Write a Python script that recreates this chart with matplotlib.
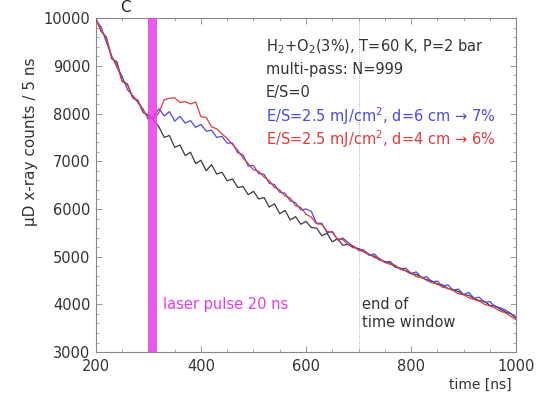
import numpy as np
import matplotlib
matplotlib.use("Agg")
import matplotlib.pyplot as plt
from matplotlib.ticker import MultipleLocator

plt.rcParams['font.family'] = ['DejaVu Sans']

time_ns = np.arange(200, 1001, 10)

black_counts = [9990, 9720, 9600, 9150, 9080, 8680, 8620, 8330, 8260, 8020, 7970, 7860,
                7720, 7500, 7540, 7290, 7340, 7120, 7190, 6950, 7020, 6800, 6930, 6730,
                6770, 6590, 6630, 6450, 6470, 6300, 6370, 6210, 6240, 6040, 6110, 5900,
                5970, 5770, 5840, 5680, 5740, 5610, 5600, 5440, 5490, 5310, 5380, 5240,
                5260, 5190, 5170, 5100, 5040, 5010, 4930, 4900, 4870, 4780, 4760, 4700,
                4640, 4630, 4560, 4520, 4490, 4420, 4410, 4330, 4310, 4270, 4200, 4190,
                4120, 4080, 4060, 3980, 3970, 3900, 3840, 3800, 3710]
blue_counts = [9960, 9810, 9490, 9210, 8970, 8780, 8500, 8380, 8230, 8090, 7870, 7950,
               8100, 7950, 8040, 7840, 7940, 7800, 7850, 7710, 7770, 7630, 7650, 7500,
               7520, 7380, 7380, 7180, 7130, 6900, 6910, 6740, 6730, 6540, 6510, 6350,
               6330, 6170, 6130, 5980, 6000, 5950, 5700, 5700, 5500, 5530, 5350, 5390,
               5300, 5210, 5160, 5140, 5030, 5060, 4950, 4880, 4900, 4800, 4740, 4760,
               4650, 4680, 4560, 4580, 4470, 4490, 4380, 4410, 4300, 4320, 4210, 4250,
               4130, 4150, 4040, 4060, 3950, 3930, 3880, 3810, 3730]
red_counts = [9980, 9740, 9580, 9190, 9020, 8670, 8600, 8340, 8280, 8030, 7940, 7880,
              8020, 8290, 8320, 8330, 8230, 8250, 8200, 8240, 7930, 7920, 7720, 7680,
              7570, 7480, 7350, 7230, 7070, 6950, 6820, 6790, 6670, 6590, 6450, 6400,
              6270, 6230, 6070, 6030, 5890, 5830, 5690, 5680, 5530, 5510, 5370, 5360,
              5250, 5230, 5130, 5110, 5060, 4980, 4960, 4880, 4840, 4820, 4730, 4710,
              4660, 4580, 4570, 4500, 4450, 4440, 4360, 4340, 4290, 4220, 4210, 4140,
              4100, 4070, 4000, 3970, 3920, 3860, 3820, 3750, 3680]

laser_start, laser_end = 299, 317
window_end = 700

info_lines = [r'H$_2$+O$_2$(3%), T=60 K, P=2 bar', 'multi-pass: N=999', 'E/S=0',
              r'E/S=2.5 mJ/cm$^2$, d=6 cm → 7%', r'E/S=2.5 mJ/cm$^2$, d=4 cm → 6%']
info_colors = ['#333333', '#333333', '#333333', '#4a4ae0', '#e03a3a']

fig = plt.figure(figsize=(5.45, 3.93), dpi=100)
ax = fig.add_axes([0.176, 0.104, 0.771, 0.850])

ax.plot(time_ns, black_counts, color='#3a3a3a', lw=0.9, zorder=3)
ax.plot(time_ns, blue_counts, color='#4a4ae0', lw=0.9, zorder=3)
ax.plot(time_ns, red_counts, color='#e03a3a', lw=0.9, zorder=4)
ax.axvspan(laser_start, laser_end, color='#e83ce8', alpha=0.85, lw=0, zorder=5)
ax.axvline(window_end, color='#999999', lw=0.6, ls=':', zorder=1)

ax.set_xlim(200, 1000)
ax.set_ylim(3000, 10000)
ax.xaxis.set_major_locator(MultipleLocator(200))
ax.xaxis.set_minor_locator(MultipleLocator(50))
ax.yaxis.set_major_locator(MultipleLocator(1000))
ax.yaxis.set_minor_locator(MultipleLocator(200))
ax.tick_params(which='both', direction='in', top=True, right=True, color='#888888',
               labelsize=10.5, labelcolor='#333333')
ax.tick_params(which='major', length=4, width=0.6)
ax.tick_params(which='minor', length=2, width=0.5)
ax.tick_params(axis='x', pad=5)
ax.tick_params(axis='y', pad=4)
for s in ax.spines.values():
    s.set_color('#888888')
    s.set_linewidth(0.8)

ax.set_ylabel('μD x-ray counts / 5 ns', fontsize=11, color='#333333')
ax.yaxis.set_label_coords(-0.138, 0.63)
ax.set_xlabel('time [ns]', fontsize=10, color='#333333')
ax.xaxis.set_label_coords(0.914, -0.076)

y0 = 0.914
for i, (t, c) in enumerate(zip(info_lines, info_colors)):
    ax.text(0.405, y0 - i * 0.069, t, transform=ax.transAxes, color=c, fontsize=10.5,
            va='center', ha='left')

ax.text(328, 4000, 'laser pulse 20 ns', color='#e83ce8', fontsize=10.5, va='center', ha='left')
ax.text(707, 3817, 'end of\ntime window', color='#333333', fontsize=10.5, va='center',
        ha='left', linespacing=1.25)

fig.text(125 / 545, 1.0, 'C', fontsize=11, ha='center', va='top', color='#222222')

fig.savefig('out.png', dpi=100)
